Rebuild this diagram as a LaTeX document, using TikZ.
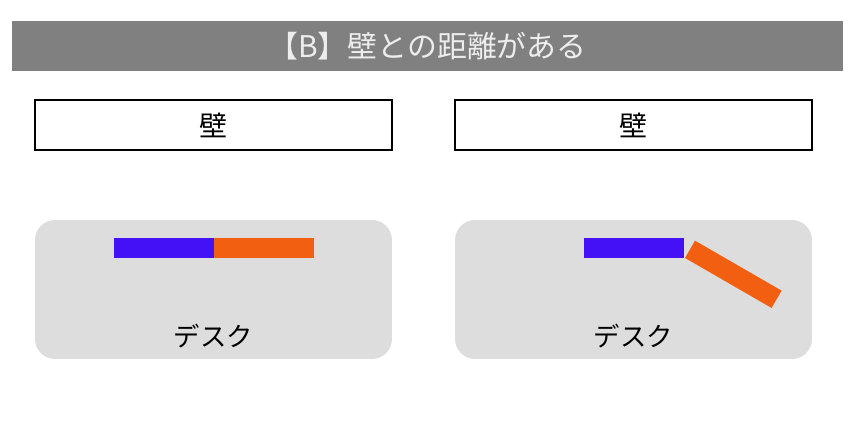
\documentclass[tikz,border=0pt]{standalone}
\usepackage{fontspec}
\setmainfont{Noto Sans CJK JP}
\definecolor{titlegray}{HTML}{808080}
\definecolor{deskgray}{HTML}{DDDDDD}
\definecolor{armblue}{HTML}{4410F5}
\definecolor{armorange}{HTML}{F25F10}
\begin{document}
\begin{tikzpicture}[x=0.02cm, y=-0.02cm,
  wall/.style={draw, line width=1.2pt, minimum width=7.14cm, minimum height=1cm, inner sep=0pt, font=\fontsize{16}{16}\selectfont},
  desk/.style={fill=deskgray, rounded corners=0.4cm, minimum width=7.14cm, minimum height=2.78cm, inner sep=0pt},
  bar/.style={minimum width=2cm, minimum height=0.4cm, inner sep=0pt},
  desklabel/.style={font=\fontsize{15}{15}\selectfont}]
\useasboundingbox[fill=white] (0,0) rectangle (855,420);
\node[fill=titlegray, minimum width=16.62cm, minimum height=1cm, inner sep=0pt, text=white!93!black, font=\fontsize{17}{17}\selectfont] (title) at (427.5,46){【B】壁との距離がある};
\node[wall] (wallL) at (213.5,125){壁};
\node[wall] (wallR) at (633.5,125){壁};
\node[desk] (deskL) at (213.5,289.5){};
\node[desk] (deskR) at (633.5,289.5){};
\node[bar, fill=armblue] (blueL) at (164,248){};
\node[bar, fill=armorange] (orangeL) at (264,248){};
\node[bar, fill=armorange, rotate=-30] (orangeR) at (733.3,274.3){};
\node[bar, fill=armblue] (blueR) at (634,248){};
\node[desklabel] (textL) at (213.5,336){デスク};
\node[desklabel] (textR) at (633.5,336){デスク};
\end{tikzpicture}
\end{document}
